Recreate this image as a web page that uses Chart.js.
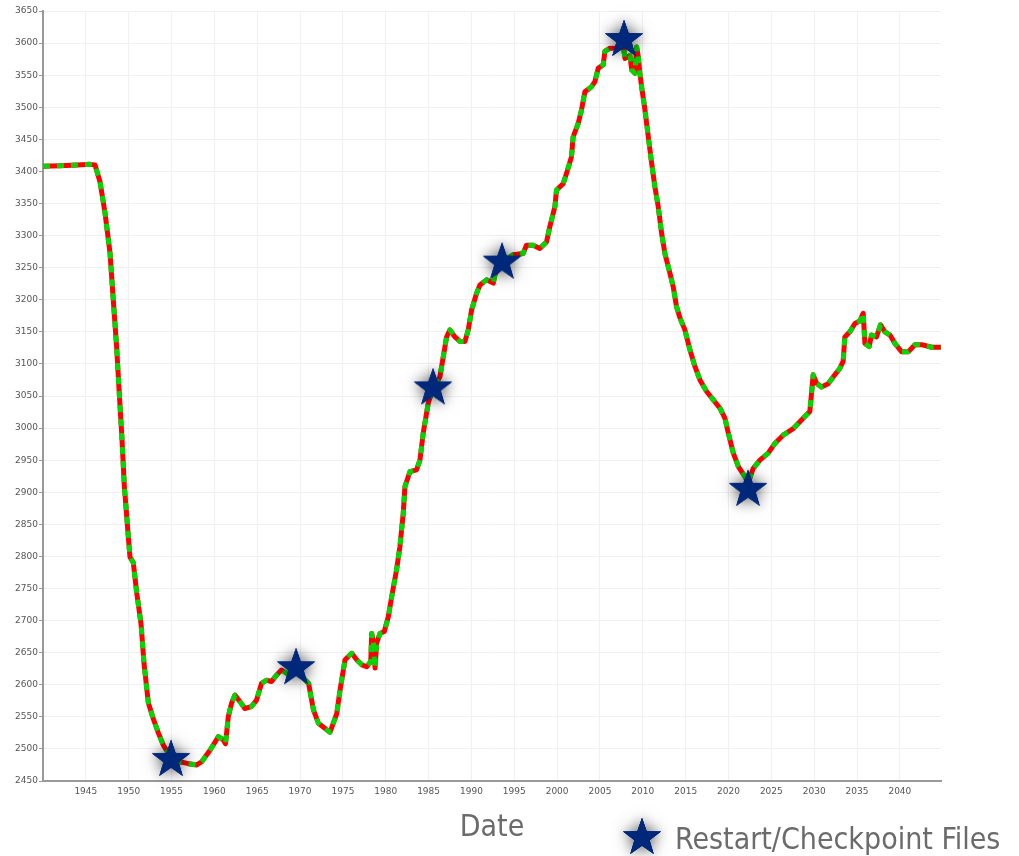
<!DOCTYPE html>
<html>
<head>
<meta charset="utf-8">
<script src="https://cdn.jsdelivr.net/npm/chart.js@4/dist/chart.umd.min.js"></script>
<style>
html,body{margin:0;padding:0;background:#fff;}
#wrap{width:1019px;height:856px;position:relative;}
</style>
</head>
<body>
<div id="wrap"><canvas id="c" width="1019" height="856"></canvas></div>
<script>
// ---- data ----
const years = [1940,1942,1944,1945.5,1946.07,1946.65,1947.24,1947.82,1948.2,1948.6,1948.91,1949.19,1949.49,1949.89,1950.15,1950.54,1950.94,1951.44,1951.79,1952.29,1952.87,1953.46,1954.04,1954.6,1955.2,1955.99,1956.96,1957.94,1958.52,1959.49,1960.46,1961.04,1961.3,1961.62,1962.0,1962.4,1962.97,1963.55,1964.33,1964.92,1965.5,1966.08,1966.67,1967.25,1967.83,1968.42,1969.0,1969.6,1970.0,1970.4,1971.0,1971.56,1972.14,1973.11,1973.5,1974.28,1974.67,1975.25,1976.03,1976.61,1977.2,1977.78,1978.25,1978.36,1978.55,1978.75,1978.94,1979.33,1979.83,1980.3,1980.69,1981.26,1981.65,1982.04,1982.24,1982.82,1983.6,1983.99,1984.37,1984.96,1985.5,1986.0,1986.32,1986.71,1987.1,1987.49,1988.07,1988.66,1989.24,1989.63,1990.02,1990.6,1990.99,1991.77,1992.55,1992.74,1993.5,1994.86,1996.03,1996.42,1997.2,1997.98,1998.76,1999.15,1999.74,1999.93,2000.71,2001.1,2001.68,2001.87,2002.46,2002.85,2003.24,2004.02,2004.41,2004.8,2005.38,2005.57,2006.16,2006.94,2007.7,2007.92,2008.5,2008.7,2009.08,2009.28,2009.47,2009.66,2009.86,2010.25,2010.64,2011.03,2011.41,2011.8,2012.19,2012.58,2013.17,2013.55,2013.94,2014.33,2014.91,2015.5,2016.08,2016.67,2017.45,2018.23,2019.0,2019.59,2019.98,2020.56,2021.15,2021.93,2022.3,2022.88,2023.66,2024.63,2025.41,2026.38,2027.55,2028.13,2028.91,2029.49,2029.69,2029.88,2030.27,2030.85,2031.63,2032.41,2032.99,2033.38,2033.58,2034.16,2034.75,2035.33,2035.72,2035.92,2036.42,2036.69,2037.27,2037.74,2038.25,2038.84,2039.42,2040.2,2040.98,2041.76,2042.54,2043.7,2044.8];
const values = [3408,3409,3410,3411,3410,3384,3335,3273,3200,3125,3052,2990,2910,2842,2799,2790,2743,2695,2633,2572,2547,2525,2506,2494,2484,2480,2477,2475,2480,2498,2519,2514,2508,2550,2571,2584,2574,2563,2566,2576,2602,2607,2605,2615,2623,2618,2615,2622,2617,2610,2602,2561,2540,2530,2526,2555,2592,2639,2649,2639,2631,2628,2636,2680,2665,2626,2665,2680,2683,2706,2737,2779,2815,2867,2909,2932,2935,2950,2992,3039,3062,3072,3080,3111,3142,3153,3142,3135,3135,3153,3184,3210,3223,3231,3226,3239,3258,3270,3272,3285,3285,3280,3290,3314,3345,3371,3381,3397,3423,3454,3475,3496,3524,3532,3540,3561,3566,3587,3592,3592,3598,3576,3581,3558,3553,3594,3579,3553,3532,3496,3454,3413,3376,3345,3304,3272,3241,3220,3189,3172,3153,3122,3096,3075,3057,3044,3031,3015,2992,2961,2940,2924,2915,2937,2950,2961,2976,2989,2999,3007,3018,3026,3054,3083,3070,3064,3069,3083,3093,3104,3142,3150,3163,3167,3179,3132,3127,3145,3142,3161,3150,3145,3132,3119,3119,3130,3130,3126,3126];
const starYears = [1954.94,1969.53,1985.52,1993.57,2007.81,2022.28];
const starValues = [2486,2629,3065,3261,3608,2907];
const xTickValues = [1945,1950,1955,1960,1965,1970,1975,1980,1985,1990,1995,2000,2005,2010,2015,2020,2025,2030,2035,2040];
const yTickValues = [2450,2500,2550,2600,2650,2700,2750,2800,2850,2900,2950,3000,3050,3100,3150,3200,3250,3300,3350,3400,3450,3500,3550,3600,3650];
const xMin = 1940, xMax = 2044.8, yMin = 2450, yMax = 3650;
const xTitle = 'Date';
const starLabel = 'Restart/Checkpoint Files';

// ---- star marker ----
function makeStar(R, pad, blur) {
  const s = Math.round(2 * (R + pad));
  const c = document.createElement('canvas');
  c.width = s; c.height = s;
  const g = c.getContext('2d');
  g.translate(s / 2, s / 2 + R * 0.09);
  const path = new Path2D();
  for (let i = 0; i < 10; i++) {
    const r = (i % 2) ? R * 0.40 : R;
    const a = -Math.PI / 2 + i * Math.PI / 5;
    path.lineTo(r * Math.cos(a), r * Math.sin(a));
  }
  path.closePath();
  g.fillStyle = '#00287a';
  g.shadowColor = 'rgba(0,0,0,0.35)';
  g.shadowBlur = blur * 1.6;
  g.fill(path);
  g.shadowColor = 'rgba(0,0,0,0.45)';
  g.shadowBlur = blur;
  g.fill(path);
  g.shadowColor = 'rgba(0,0,0,0)';
  g.fill(path);
  return c;
}
const starImg = makeStar(20, 22, 12);

const pts = years.map((x, i) => ({x: x, y: values[i]}));
const starPts = starYears.map((x, i) => ({x: x, y: starValues[i]}));

const legendPlugin = {
  id: 'starLegend',
  afterDraw(chart) {
    const ctx = chart.ctx;
    const ds = chart.data.datasets[0];
    ctx.save();
    ctx.drawImage(starImg, 642 - starImg.width / 2, 836 - starImg.height / 2);
    ctx.font = '30px "DejaVu Sans Condensed", "DejaVu Sans"';
    ctx.fillStyle = '#6b6b6b';
    ctx.textBaseline = 'alphabetic';
    ctx.textAlign = 'left';
    ctx.fillText(ds.label, 675, 849);
    ctx.restore();
  }
};

new Chart(document.getElementById('c'), {
  type: 'line',
  data: {
    datasets: [
      {
        type: 'scatter',
        label: starLabel,
        data: starPts,
        pointStyle: starImg,
        pointRadius: 1,
        showLine: false,
        clip: false,
        order: 0
      },
      {
        label: 'green',
        data: pts,
        borderColor: 'rgb(0,215,0)',
        borderWidth: 5,
        borderDash: [7, 7],
        borderCapStyle: 'butt',
        borderJoinStyle: 'round',
        pointRadius: 0,
        tension: 0,
        fill: false,
        order: 1
      },
      {
        label: 'red',
        data: pts,
        borderColor: 'rgb(255,0,0)',
        borderWidth: 5,
        borderJoinStyle: 'round',
        pointRadius: 0,
        tension: 0,
        fill: false,
        order: 2
      }
    ]
  },
  options: {
    responsive: false,
    animation: false,
    layout: { autoPadding: false, padding: { top: 11, right: 78, left: 0, bottom: 0 } },
    plugins: { legend: { display: false }, tooltip: { enabled: false } },
    scales: {
      x: {
        type: 'linear',
        min: xMin, max: xMax,
        afterBuildTicks: s => { s.ticks = xTickValues.map(v => ({value: v})); },
        afterFit: s => { s.height = 75; },
        ticks: { font: { family: 'DejaVu Sans', size: 9 }, color: '#555', padding: 2, maxRotation: 0, autoSkip: false, callback: v => String(v) },
        grid: { color: '#f0f0f0', lineWidth: 1, tickLength: 3, tickColor: 'rgba(0,0,0,0)' },
        border: { color: '#999', width: 2 },
        title: { display: true, text: xTitle, font: { family: '"DejaVu Sans Condensed", "DejaVu Sans"', size: 30 }, color: '#6b6b6b', padding: { top: 0, bottom: 10 } }
      },
      y: {
        type: 'linear',
        min: yMin, max: yMax,
        afterBuildTicks: s => { s.ticks = yTickValues.map(v => ({value: v})); },
        afterFit: s => { s.width = 43; },
        ticks: { font: { family: 'DejaVu Sans', size: 9 }, color: '#555', padding: 1, autoSkip: false, callback: v => String(v) },
        grid: { color: '#f0f0f0', lineWidth: 1, tickLength: 4, tickColor: '#999' },
        border: { color: '#999', width: 2 }
      }
    }
  },
  plugins: [legendPlugin]
});
</script>
</body>
</html>
